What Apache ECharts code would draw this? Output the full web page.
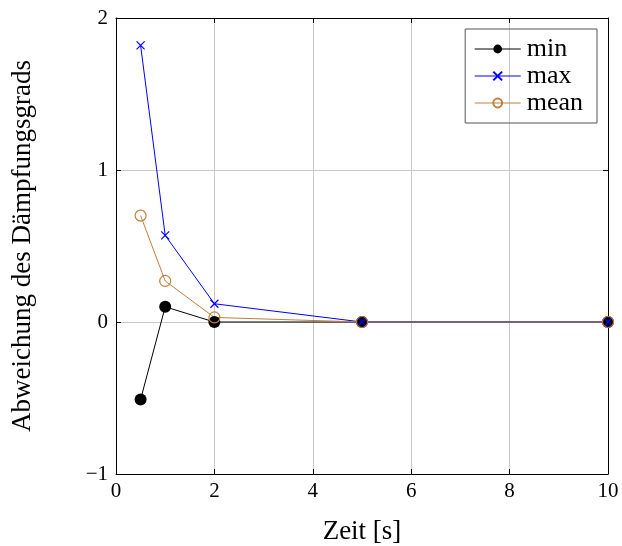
<!DOCTYPE html>
<html><head><meta charset="utf-8">
<script src="https://cdn.jsdelivr.net/npm/echarts@6/dist/echarts.min.js"></script>
<style>html,body{margin:0;padding:0;background:#fff}#c{width:622px;height:546px}</style>
</head><body><div id="c"></div>
<script>
const xValues = [0.5, 1, 2, 5, 10];
const minValues = [-0.51, 0.10, 0.0, 0.0, 0.0];
const maxValues = [1.82, 0.57, 0.12, 0.0, 0.0];
const meanValues = [0.70, 0.27, 0.03, 0.0, 0.0];
const seriesNames = ['min', 'max', 'mean'];
const xTitle = 'Zeit [s]';
const yTitle = 'Abweichung des Dämpfungsgrads';

const FONT = 'Liberation Serif';
const pair = (xs, ys) => xs.map((x, i) => [x, ys[i]]);
const fmt = v => (v < 0 ? '\u2212' + Math.abs(v) : String(v));

const chart = echarts.init(document.getElementById('c'));
const gridLine = {show: true, lineStyle: {color: '#c8c8c8', width: 1}};
const axisLine = {show: true, onZero: false, lineStyle: {color: '#000', width: 1}};
const tick = {show: true, inside: true, length: 5, lineStyle: {color: '#000'}};
chart.setOption({
  backgroundColor: '#fff',
  animation: false,
  textStyle: {fontFamily: FONT},
  grid: {left: 116, right: 14, top: 18, bottom: 72, containLabel: false, outerBoundsMode: 'none'},
  legend: {
    orient: 'vertical', right: 25, top: 29,
    data: seriesNames,
    borderColor: '#555', borderWidth: 1,
    padding: [7, 14, 7, 9], itemGap: 1,
    itemWidth: 46, itemHeight: 11,
    lineStyle: {width: 1},
    textStyle: {fontFamily: FONT, fontSize: 26, color: '#000', padding: [0,0,0,1]}
  },
  xAxis: [{
    type: 'value', min: 0, max: 10, interval: 2,
    axisLine, axisTick: tick, splitLine: gridLine,
    axisLabel: {fontSize: 21, color: '#000', margin: 7, fontFamily: FONT, formatter: fmt},
    name: xTitle, nameLocation: 'middle', nameGap: 44,
    nameTextStyle: {fontSize: 27, color: '#000', fontFamily: FONT}
  }, {
    type: 'value', min: 0, max: 10, interval: 2, position: 'top',
    axisLine, axisTick: tick, splitLine: {show: false}, axisLabel: {show: false}
  }],
  yAxis: [{
    type: 'value', min: -1, max: 2, interval: 1,
    axisLine, axisTick: tick, splitLine: gridLine,
    axisLabel: {fontSize: 21, color: '#000', margin: 8, fontFamily: FONT, formatter: fmt},
    name: yTitle, nameLocation: 'middle', nameGap: 80,
    nameTextStyle: {fontSize: 27, color: '#000', fontFamily: FONT}
  }, {
    type: 'value', min: -1, max: 2, interval: 1, position: 'right',
    axisLine, axisTick: tick, splitLine: {show: false}, axisLabel: {show: false}
  }],
  series: [{
    name: 'min', type: 'line', data: pair(xValues, minValues),
    symbol: 'circle', symbolSize: 12,
    lineStyle: {color: '#000', width: 1},
    itemStyle: {color: '#000'}
  }, {
    name: 'max', type: 'line', data: pair(xValues, maxValues),
    symbol: 'path://M0,0L10,10M10,0L0,10', symbolSize: 8,
    lineStyle: {color: '#0000ff', width: 1},
    itemStyle: {color: '#0000ff', borderColor: '#0000ff', borderWidth: 1.2}
  }, {
    name: 'mean', type: 'line', data: pair(xValues, meanValues),
    symbol: 'circle', symbolSize: 11,
    lineStyle: {color: '#bf8040', width: 1},
    itemStyle: {color: 'rgba(0,0,0,0)', borderColor: '#bf8040', borderWidth: 1.2}
  }]
});
</script></body></html>
